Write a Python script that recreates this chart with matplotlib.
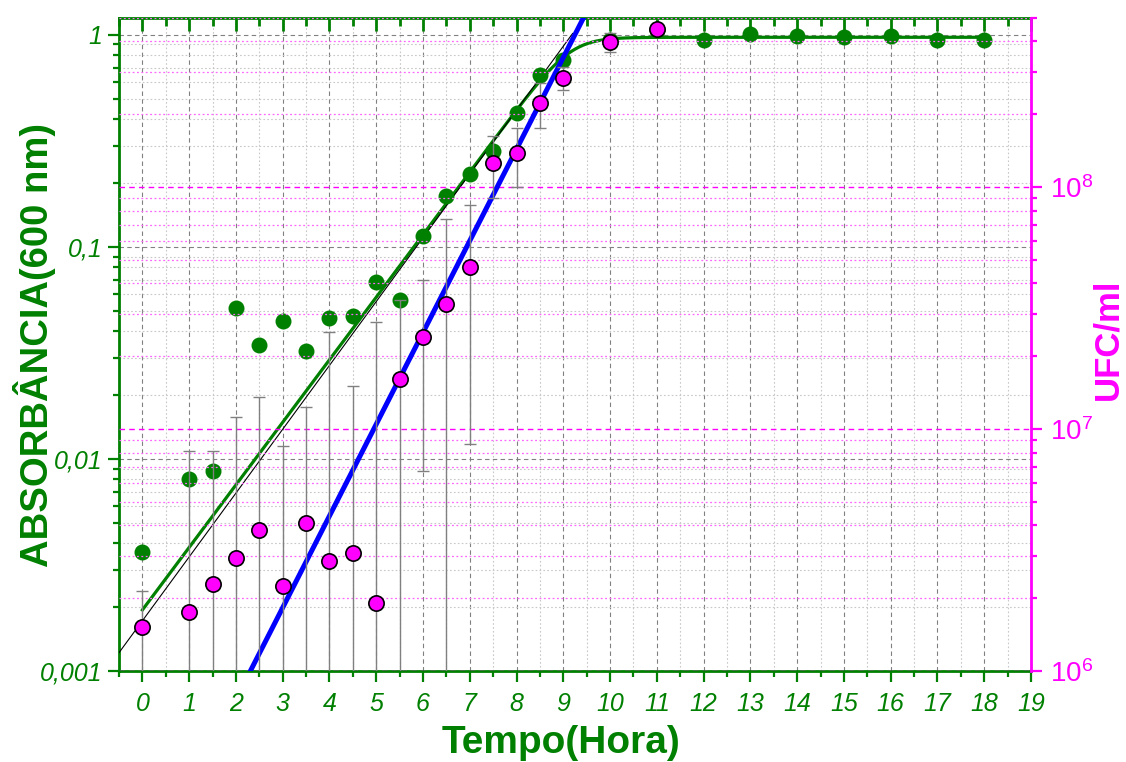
import numpy as np
import matplotlib
matplotlib.use('Agg')
import matplotlib.pyplot as plt
import matplotlib.lines as mlines
from matplotlib.ticker import FixedLocator, LogLocator, MultipleLocator, NullFormatter

plt.rcParams['font.family'] = ['Liberation Sans', 'DejaVu Sans']
plt.rcParams['mathtext.fontset'] = 'custom'
plt.rcParams['mathtext.rm'] = 'Liberation Sans'
plt.rcParams['mathtext.it'] = 'Liberation Sans:italic'
plt.rcParams['mathtext.bf'] = 'Liberation Sans:bold'

verde = '#008000'
magenta = '#ff00ff'
azul = '#0000ff'
cinza = '#808080'

# Absorbancia (600 nm) - pontos verdes
tempo_abs = [0, 1, 1.5, 2, 2.5, 3, 3.5, 4, 4.5, 5, 5.5, 6, 6.5, 7, 7.5, 8, 8.5, 9,
             10, 11, 12, 13, 14, 15, 16, 17, 18]
absorbancia = [0.00364, 0.0080, 0.00878, 0.0515, 0.0345, 0.0448, 0.0323, 0.0462,
               0.0473, 0.0684, 0.0562, 0.113, 0.174, 0.221, 0.284, 0.429, 0.648,
               0.762, 0.95, 1.056, 0.947, 1.01, 0.99, 0.98, 0.99, 0.947, 0.947]

# UFC/ml - pontos magenta com barras de erro
tempo_ufc = [0, 1, 1.5, 2, 2.5, 3, 3.5, 4, 4.5, 5, 5.5, 6, 6.5, 7, 7.5, 8, 8.5, 9, 10, 11]
ufc = [1.52e6, 1.75e6, 2.29e6, 2.93e6, 3.83e6, 2.25e6, 4.09e6, 2.85e6, 3.07e6, 1.91e6,
       1.61e7, 2.40e7, 3.28e7, 4.67e7, 1.26e8, 1.38e8, 2.22e8, 2.82e8, 3.97e8, 4.50e8]
ufc_erro = [0.62e6, 6.35e6, 5.8e6, 8.3e6, 9.8e6, 6.3e6, 8.3e6, 2.24e7, 1.2e7, 2.59e7,
            1.8e7, 1.73e7, 4.1e7, 3.8e7, 3.6e7, 3.8e7, 4.7e7, 3.1e7, 3.5e7, 2.0e7]

# ajustes (log10)
ajuste_verde = dict(a=-2.712, b=0.295, plato=0.973, t0=0, t1=18)
ajuste_preto = dict(a=-2.763, b=0.301, t0=-0.5, t1=9.2)
ajuste_azul = dict(a=5.125, b=0.379, t0=2.0, t1=9.6)

rotulos_abs = ['0,001', '0,01', '0,1', '1']
ticks_abs = [0.001, 0.01, 0.1, 1]
ticks_ufc = [1e6, 1e7, 1e8]
rotulos_ufc = ['$10^{6}$', '$10^{7}$', '$10^{8}$']

fig = plt.figure(figsize=(11.26, 7.62), dpi=100)
ax = fig.add_axes([0.1057, 0.1194, 0.8099, 0.857])
ax2 = ax.twinx()

# ---- eixo esquerdo (absorbancia)
ax.set_yscale('log')
ax.set_ylim(0.001, 1.2)
ax.set_xlim(-0.5, 19)

t = np.linspace(ajuste_verde['t0'], ajuste_verde['t1'], 400)
reta = ajuste_verde['a'] + ajuste_verde['b'] * t
k = 10.0
curva = -np.log(np.exp(-k * reta) + np.exp(-k * np.log10(ajuste_verde['plato']))) / k
ax.plot(t, 10 ** curva, color=verde, lw=2.3, zorder=3)

tp = np.linspace(ajuste_preto['t0'], ajuste_preto['t1'], 50)
ax.plot(tp, 10 ** (ajuste_preto['a'] + ajuste_preto['b'] * tp), color='black', lw=0.8, zorder=3)

ax.plot(tempo_abs, absorbancia, 'o', color=verde, ms=11.5, mec='none', zorder=4)

# grade cinza
ax.xaxis.set_major_locator(FixedLocator(range(0, 20)))
ax.xaxis.set_minor_locator(MultipleLocator(0.5))
ax.yaxis.set_major_locator(FixedLocator(ticks_abs))
ax.yaxis.set_minor_locator(LogLocator(base=10, subs=np.arange(2, 10)))
ax.yaxis.set_minor_formatter(NullFormatter())
ax.set_yticklabels(rotulos_abs)
ax.grid(which='major', color=cinza, ls=(0, (4, 3)), lw=0.8)
ax.grid(which='minor', color='#c8c8c8', ls=(0, (1.5, 2)), lw=0.8)

ax.tick_params(axis='both', which='major', colors=verde, width=1.6, labelsize=18)
ax.tick_params(axis='x', which='both', top=True, direction='out')
ax.tick_params(axis='x', which='major', length=8, pad=7)
ax.tick_params(axis='x', which='minor', length=4, width=1.6, color=verde)
ax.tick_params(axis='y', which='major', length=8, pad=4)
ax.tick_params(axis='y', which='minor', length=4, width=1.6, color=verde)
for lab in ax.get_xticklabels() + ax.get_yticklabels():
    lab.set_fontstyle('italic')
    lab.set_color(verde)

# ticks do topo voltados para dentro
for tick in ax.xaxis.get_major_ticks(20):
    tick.tick2line.set_marker(mlines.TICKDOWN)
    tick.tick2line.set_markersize(9.5)
    tick.tick2line.set_markeredgewidth(2)
for tick in ax.xaxis.get_minor_ticks(len(ax.xaxis.get_minorticklocs())):
    tick.tick2line.set_marker(mlines.TICKDOWN)
    tick.tick2line.set_markersize(5.5)
    tick.tick2line.set_markeredgewidth(2)

for lado in ['left', 'bottom', 'top']:
    ax.spines[lado].set_color(verde)
    ax.spines[lado].set_linewidth(2)

ax.set_xlabel('Tempo(Hora)', fontsize=28, fontweight='bold', color=verde)
ax.xaxis.set_label_coords(0.485, -0.082)
ax.set_ylabel('ABSORBÂNCIA(600 nm)', fontsize=27.5, fontweight='bold', color=verde)
ax.yaxis.set_label_coords(-0.069, 0.5)

# ---- eixo direito (UFC/ml)
ax2.set_yscale('log')
ax2.set_ylim(1e6, 5e8)
ax2.yaxis.set_major_locator(FixedLocator(ticks_ufc))
ax2.yaxis.set_minor_locator(LogLocator(base=10, subs=np.arange(2, 10)))
ax2.yaxis.set_minor_formatter(NullFormatter())
ax2.set_yticklabels(rotulos_ufc)
ax2.grid(which='major', axis='y', color=magenta, ls=(0, (4, 3)), lw=1.0)
ax2.grid(which='minor', axis='y', color='#ff66ff', ls=(0, (1.5, 2)), lw=0.9)
ax2.tick_params(axis='y', which='major', colors=magenta, length=8, width=1.6, pad=6, labelsize=20)
ax2.tick_params(axis='y', which='minor', color=magenta, length=4, width=1.6)
ax2.spines['right'].set_color(magenta)
ax2.spines['right'].set_linewidth(2)
for lado in ['left', 'bottom', 'top']:
    ax2.spines[lado].set_visible(False)

ta = np.linspace(ajuste_azul['t0'], ajuste_azul['t1'], 50)
ax2.plot(ta, 10 ** (ajuste_azul['a'] + ajuste_azul['b'] * ta), color=azul, lw=3.6, zorder=3)

ax2.errorbar(tempo_ufc, ufc, yerr=ufc_erro, fmt='none', ecolor=cinza, elinewidth=1,
             capsize=4.5, capthick=1, zorder=4)
ax2.plot(tempo_ufc, ufc, 'o', color=magenta, ms=11, mec='black', mew=1.2, zorder=5)

ax2.set_ylabel('UFC/ml', fontsize=25, fontweight='bold', color=magenta)
ax2.yaxis.set_label_coords(1.066, 0.508)

fig.savefig('out.png', dpi=100)
